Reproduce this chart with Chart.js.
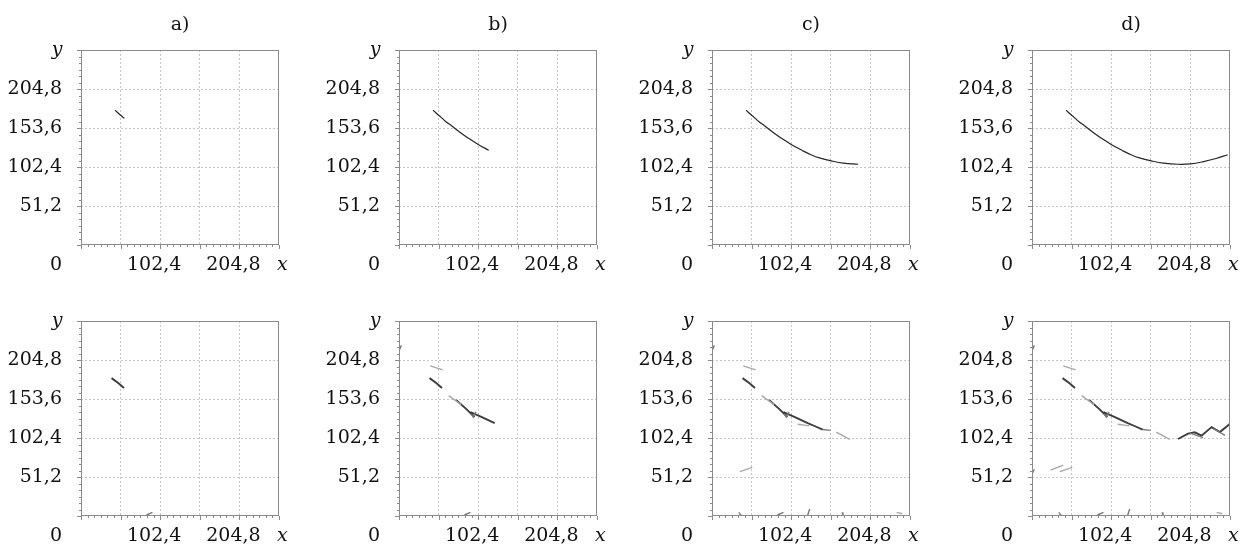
<!DOCTYPE html>
<html>
<head>
<meta charset="utf-8">
<script src="https://cdn.jsdelivr.net/npm/chart.js@4/dist/chart.umd.min.js"></script>
<style>
html, body { margin: 0; padding: 0; background: #fff; }
body { width: 1249px; height: 550px; position: relative; overflow: hidden; }
canvas { position: absolute; }
</style>
</head>
<body>
<script>
var panelTitles = ["a)", "b)", "c)", "d)"];
var axisMax = 256;
var gridValues = [51.2, 102.4, 153.6, 204.8];
var yTickLabels = ["51,2", "102,4", "153,6", "204,8"];
var xTickLabels = ["", "102,4", "", "204,8"];
var originLabel = "0";

// upper row: one trajectory, each panel shows it up to curveEnd
var curveX = [44, 52, 56, 60, 70, 80, 90, 102.4, 116, 128, 140, 154, 170, 189, 205, 222, 238, 253];
var curveY = [177, 169.6, 166.2, 162.5, 155, 147, 140, 132, 124.5, 118.5, 114, 110.5, 107.5, 106, 106.5, 109.5, 113.5, 118.5];
var curveEnd = [56, 116, 189, 253];

// lower row: track pieces, "from" = first panel where the piece shows up
var strongX = [[39.5, 47.7, 55.6], [73.8, 86.8, 97.6], [92.4, 107.2, 123.7], [123.7, 134.0, 143.2], [188.8, 201.8, 210.5, 219.2, 232.2, 243.0, 256.0]];
var strongY = [[181.0, 174.9, 168.0], [152.3, 140.6, 129.8], [136.3, 129.8, 122.0], [122.0, 117.5, 113.5], [101.1, 108.1, 109.8, 105.5, 116.7, 110.2, 121.1]];
var strongFrom = [0, 1, 1, 2, 3];

var midX = [[0.0, 3.0], [0.0, 3.0], [34.7, 37.8], [84.6, 92.4], [123.7, 126.3], [168.4, 169.3], [204.0, 221.3], [234.4, 249.6], [93.3, 96.0, 99.5], [143.2, 153.2]];
var midY = [[216.6, 224.0], [55.1, 61.2], [4.8, 0.4], [1.3, 4.8], [0.9, 9.1], [4.8, 0.4], [108.9, 102.9], [114.6, 105.9], [134.0, 129.8, 136.7], [113.5, 112.4]];
var midFrom = [1, 3, 2, 0, 2, 2, 3, 3, 1, 2];

var weakX = [[40.4, 56.4], [64.2, 80.3], [110.7, 126.0], [160.6, 178.0], [23.9, 40.4], [36.0, 52.1], [238.7, 246.1]];
var weakY = [[197.0, 191.8], [158.0, 146.3], [120.5, 118.3], [110.2, 100.7], [60.3, 66.8], [58.2, 63.8], [4.8, 3.0]];
var weakFrom = [1, 1, 2, 2, 3, 2, 2];

// layout
var plotLeft = [81, 399, 712, 1032];
var rowTop = [50, 321];
var plotW = 198, plotH = 195;
var padTop = 50, yAxisW = 80, xAxisH = 35, padRight = 22;
var labelFont = '"DejaVu Serif", serif';

function curveData(p) {
    var out = [];
    for (var i = 0; i < curveX.length; i++) {
        if (curveX[i] <= curveEnd[p]) out.push({ x: curveX[i], y: curveY[i] });
    }
    return out;
}

function trackData(xs, ys, from, p) {
    var out = [];
    for (var i = 0; i < xs.length; i++) {
        if (from[i] > p) continue;
        for (var j = 0; j < xs[i].length; j++) out.push({ x: xs[i][j], y: ys[i][j] });
        out.push({ x: xs[i][xs[i].length - 1], y: null });
    }
    return out;
}

var panelDeco = {
    id: 'panelDeco',
    afterDraw: function(chart, args, opts) {
        var ctx = chart.ctx, a = chart.chartArea;
        var sx = chart.scales.x, sy = chart.scales.y;
        ctx.save();
        ctx.strokeStyle = '#8a8a8a';
        ctx.lineWidth = 1;
        var l = Math.round(a.left), t = Math.round(a.top);
        ctx.strokeRect(l + 0.5, t + 0.5, Math.round(a.right - a.left) - 1, Math.round(a.bottom - a.top) - 1);

        // small ticks along the two axes
        var step = gridValues[0] / 6;
        for (var k = 0; k <= 30; k++) {
            var len = (k % 6 === 0) ? 4 : 2;
            var px = Math.round(sx.getPixelForValue(k * step)) + 0.5;
            ctx.beginPath(); ctx.moveTo(px, a.bottom); ctx.lineTo(px, a.bottom + len); ctx.stroke();
            var py = Math.round(sy.getPixelForValue(k * step)) + 0.5;
            ctx.beginPath(); ctx.moveTo(a.left - len, py); ctx.lineTo(a.left, py); ctx.stroke();
        }

        ctx.fillStyle = '#111';
        ctx.textBaseline = 'middle';
        ctx.font = '19px ' + labelFont;
        if (opts.title) {
            ctx.textAlign = 'center';
            ctx.fillText(opts.title, (a.left + a.right) / 2, a.top - 25);
        }
        ctx.textAlign = 'right';
        ctx.fillText(originLabel, a.left - 19, a.bottom + 20);
        ctx.font = 'italic 19px ' + labelFont;
        ctx.textAlign = 'left';
        ctx.fillText('x', a.right - 2, a.bottom + 20);
        ctx.textAlign = 'center';
        ctx.fillText('y', a.left - 24, a.top);
        ctx.restore();
    }
};

function makePanel(row, p) {
    var c = document.createElement('canvas');
    var w = yAxisW + plotW + padRight;
    var h = padTop + plotH + xAxisH;
    c.width = w; c.height = h;
    c.style.width = w + 'px'; c.style.height = h + 'px';
    c.style.left = (plotLeft[p] - yAxisW) + 'px';
    c.style.top = (rowTop[row] - padTop) + 'px';
    document.body.appendChild(c);

    var datasets;
    if (row === 0) {
        datasets = [{
            data: curveData(p),
            borderColor: '#262626',
            borderWidth: 1.2,
            tension: 0.4,
            pointRadius: 0
        }];
    } else {
        datasets = [
            { data: trackData(weakX, weakY, weakFrom, p), borderColor: '#a8a8a8', borderWidth: 1.4, tension: 0, pointRadius: 0, spanGaps: false },
            { data: trackData(midX, midY, midFrom, p), borderColor: '#7a7a7a', borderWidth: 1.4, tension: 0, pointRadius: 0, spanGaps: false },
            { data: trackData(strongX, strongY, strongFrom, p), borderColor: '#3c3c3c', borderWidth: 1.9, tension: 0, pointRadius: 0, spanGaps: false }
        ];
    }

    new Chart(c, {
        type: 'line',
        data: { datasets: datasets },
        plugins: [panelDeco],
        options: {
            responsive: false,
            animation: false,
            devicePixelRatio: 1,
            layout: { padding: { top: padTop, right: padRight, left: 0, bottom: 0 } },
            plugins: {
                legend: { display: false },
                title: { display: false },
                tooltip: { enabled: false },
                panelDeco: { title: row === 0 ? panelTitles[p] : '' }
            },
            scales: {
                x: {
                    type: 'linear',
                    min: 0,
                    max: axisMax,
                    afterFit: function(s) { s.height = xAxisH; },
                    afterBuildTicks: function(s) { s.ticks = gridValues.map(function(v) { return { value: v }; }); },
                    grid: { color: '#c6c6c6', lineWidth: 1, drawTicks: false },
                    border: { display: false, dash: [2, 2] },
                    ticks: {
                        autoSkip: false,
                        maxRotation: 0,
                        padding: 9,
                        labelOffset: -6,
                        color: '#111',
                        font: { family: labelFont, size: 19 },
                        callback: function(v, i) { return xTickLabels[i]; }
                    }
                },
                y: {
                    type: 'linear',
                    min: 0,
                    max: axisMax,
                    afterFit: function(s) { s.width = yAxisW; },
                    afterBuildTicks: function(s) { s.ticks = gridValues.map(function(v) { return { value: v }; }); },
                    grid: { color: '#c6c6c6', lineWidth: 1, drawTicks: false },
                    border: { display: false, dash: [2, 2] },
                    ticks: {
                        autoSkip: false,
                        padding: 19,
                        color: '#111',
                        font: { family: labelFont, size: 19 },
                        callback: function(v, i) { return yTickLabels[i]; }
                    }
                }
            }
        }
    });
}

for (var r = 0; r < 2; r++) {
    for (var p = 0; p < 4; p++) makePanel(r, p);
}
</script>
</body>
</html>
